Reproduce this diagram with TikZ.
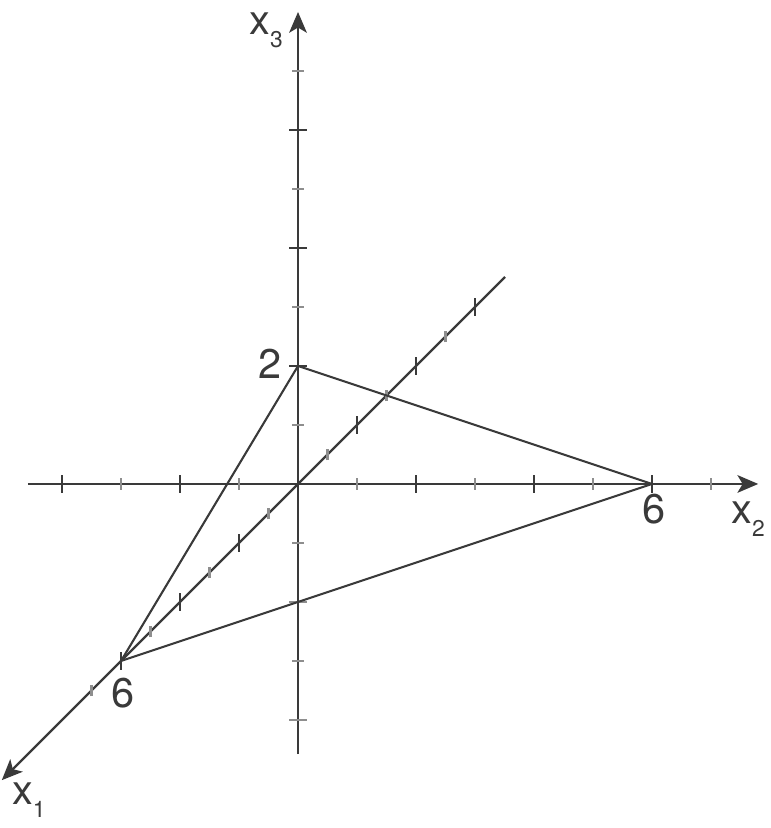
\documentclass[tikz,border=0pt]{standalone}
\usepackage{fontspec}
\setmainfont{TeX Gyre Heros}
\usetikzlibrary{arrows.meta}
\definecolor{ink}{HTML}{3A3A3A}
\definecolor{tickgray}{HTML}{8E8E8E}
\newcommand{\axlab}[1]{x\raisebox{-6.3pt}{\fontsize{11}{13}\selectfont #1}}
\tikzset{
  axis/.style={draw=ink, line width=1.15pt, -{Stealth[length=10pt,width=8.5pt,inset=2.5pt]}},
  edge/.style={draw=ink, line width=1pt},
  bigtick/.style={draw=ink, line width=1pt},
  smalltick/.style={draw=tickgray, line width=1pt},
  lbl/.style={inner sep=0pt, text=ink, font=\fontsize{20}{24}\selectfont}
}
\begin{document}
\begin{tikzpicture}
  \useasboundingbox (-5.051,-5.831) rectangle (8.0,8.203);

  % axes
  \coordinate (O) at (0,0);
  \coordinate (X1s) at (3.51,3.51);
  \coordinate (X1e) at (-5.02,-5.02);
  \coordinate (X2s) at (-4.58,0);
  \coordinate (X2e) at (7.8,0);
  \coordinate (X3s) at (0,-4.58);
  \coordinate (X3e) at (0,8.0);
  \draw[axis] (X2s) -- (X2e);
  \draw[axis] (X3s) -- (X3e);
  \draw[axis] (X1s) -- (X1e);

  % ticks
  \foreach \k in {-4,-2,2,4,6} \draw[bigtick] (\k,-0.15) -- (\k,0.15);
  \foreach \k in {-3,-1,1,3,5,7} \draw[smalltick] (\k,-0.1) -- (\k,0.1);
  \foreach \k in {2,4,6} \draw[bigtick] (-0.15,\k) -- (0.15,\k);
  \foreach \k in {-4,-2} \draw[smalltick] (-0.15,\k) -- (0.15,\k);
  \foreach \k in {-3,-1,1,3,5,7} \draw[smalltick] (-0.1,\k) -- (0.1,\k);
  \foreach \k in {-6,-4,-2,2,4,6} \draw[bigtick] (-0.5*\k,-0.5*\k-0.15) -- (-0.5*\k,-0.5*\k+0.15);
  \foreach \k in {-5,-3,-1,1,3,5,7} \draw[smalltick] (-0.5*\k,-0.5*\k-0.1) -- (-0.5*\k,-0.5*\k+0.1);

  % triangle
  \coordinate (A) at (0,2);
  \coordinate (B) at (6,0);
  \coordinate (C) at (-3,-3);
  \draw[edge] (A) -- (B) -- (C) -- (A);

  % labels
  \node[lbl] (LA) at (-0.47,2.03) {2};
  \node[lbl] (LB) at (6.03,-0.42) {6};
  \node[lbl] (LC) at (-2.96,-3.54) {6};
  \node[lbl] (L1) at (-4.56,-5.36) {\axlab{1}};
  \node[lbl] (L2) at (7.63,-0.59) {\axlab{2}};
  \node[lbl] (L3) at (-0.54,7.69) {\axlab{3}};
\end{tikzpicture}
\end{document}
